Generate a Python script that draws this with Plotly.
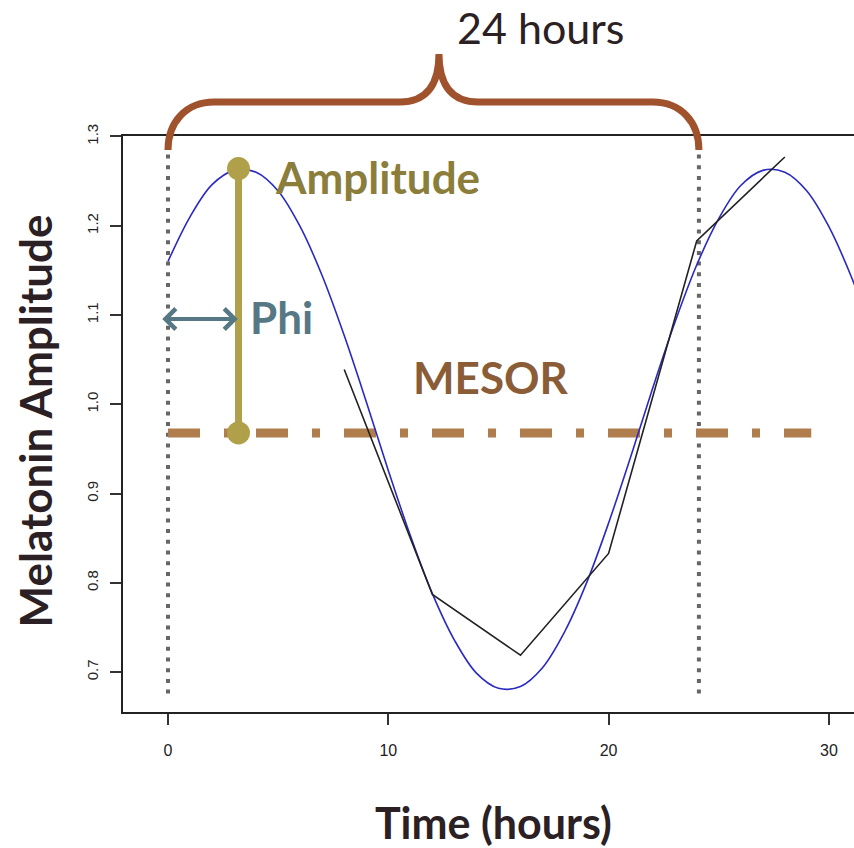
import plotly.graph_objects as go

# ---------------- data ----------------
fit_hours = [0, 1, 2, 3, 4, 5, 6, 7, 8, 9, 10, 11, 12, 13, 14, 15, 16, 17, 18, 19, 20,
             21, 22, 23, 24, 25, 26, 27, 28, 29, 30, 31, 31.5]
fit_values = [1.160, 1.210, 1.246, 1.262, 1.260, 1.239, 1.199, 1.144, 1.077, 1.003, 0.926,
              0.853, 0.788, 0.736, 0.699, 0.682, 0.684, 0.705, 0.745, 0.800, 0.867, 0.941,
              1.018, 1.091, 1.156, 1.208, 1.245, 1.262, 1.260, 1.239, 1.199, 1.144, 1.111]

obs_hours = [8, 12, 16, 20, 24, 28]
obs_values = [1.039, 0.787, 0.719, 0.833, 1.183, 1.277]

x_ticks = [0, 10, 20, 30]
y_ticks = [0.7, 0.8, 0.9, 1.0, 1.1, 1.2, 1.3]
y_tick_text = ["0.7", "0.8", "0.9", "1.0", "1.1", "1.2", "1.3"]

period_marks = [0, 24.1]
guide_span = [0.676, 1.29]
mesor_value = 0.968
mesor_span = [0, 29.2]
amplitude_peak = 1.264
acrophase_hour = 3.2
phi_level = 1.0955
phi_span = [-0.33, 3.17]

X_RANGE = [-2.043, 31.14]
Y_RANGE = [0.6554, 1.3005]

# ---------------- colours / fonts ----------------
DARK = "#2b2023"
BLUE = "#2a2ac0"
GUIDE = "#666666"
MESOR_LINE = "#b07d4d"
MESOR_TEXT = "#8a5d36"
AMP_BAR = "#b0a04a"
AMP_TEXT = "#8b7d3a"
PHI_COL = "#567885"
BRACE = "#a0522d"
LABEL_FONT = "Lato"
TICK_FONT = "Liberation Sans"

fig = go.Figure()

# vertical dotted period guides
for p in period_marks:
    fig.add_trace(go.Scatter(x=[p, p], y=guide_span, mode="lines",
                             line=dict(color=GUIDE, width=4, dash="4px,6.7px"),
                             hoverinfo="skip", showlegend=False))

# MESOR dash-dot line
fig.add_trace(go.Scatter(x=mesor_span, y=[mesor_value, mesor_value], mode="lines",
                         line=dict(color=MESOR_LINE, width=9, dash="32px,24px,8px,24px"),
                         hoverinfo="skip", showlegend=False))

# fitted cosinor curve
fig.add_trace(go.Scatter(x=fit_hours, y=fit_values, mode="lines",
                         line=dict(color=BLUE, width=1.6, shape="spline"),
                         showlegend=False))

# observed melatonin
fig.add_trace(go.Scatter(x=obs_hours, y=obs_values, mode="lines",
                         line=dict(color="#222222", width=1.6),
                         showlegend=False))

# amplitude bar
fig.add_trace(go.Scatter(x=[acrophase_hour, acrophase_hour], y=[mesor_value, amplitude_peak],
                         mode="lines+markers",
                         line=dict(color=AMP_BAR, width=7),
                         marker=dict(color=AMP_BAR, size=23),
                         hoverinfo="skip", showlegend=False))


def xp(x):
    return (x - X_RANGE[0]) / (X_RANGE[1] - X_RANGE[0])


# curly brace spanning one period (x in hours, y in paper units)
L, R, T = period_marks[0], period_marks[1], 12.3
r, w = 2.1, 1.77
y_leg, y_mid, y_bar, y_up, y_tip = 0.9757, 1.0243, 1.059, 1.0833, 1.1424
pts = [
    ("M", [(L, y_leg)]),
    ("C", [(L, y_mid), (L + 0.82, y_bar), (L + r, y_bar)]),
    ("L", [(T - w, y_bar)]),
    ("C", [(T - 0.68, y_bar), (T, y_up), (T, y_tip)]),
    ("C", [(T, y_up), (T + 0.68, y_bar), (T + w, y_bar)]),
    ("L", [(R - r, y_bar)]),
    ("C", [(R - 0.82, y_bar), (R, y_mid), (R, y_leg)]),
]
path = " ".join(cmd + " " + " ".join(f"{xp(x):.5f},{y:.5f}" for x, y in coords)
                for cmd, coords in pts)
fig.add_shape(type="path", path=path, xref="paper", yref="paper",
              line=dict(color=BRACE, width=7), layer="above")

annotations = [
    # phi double arrow
    dict(x=phi_span[1], y=phi_level, ax=phi_span[0], ay=phi_level,
         xref="x", yref="y", axref="x", ayref="y", text="", showarrow=True,
         arrowhead=4, startarrowhead=4, arrowside="end+start",
         arrowsize=1, startarrowsize=1, arrowwidth=4, arrowcolor=PHI_COL),
    dict(x=9.49, y=1.2545, xref="x", yref="y", text="Amplitude", showarrow=False,
         xanchor="center", yanchor="middle",
         font=dict(family=LABEL_FONT, size=44, color=AMP_TEXT, weight=700)),
    dict(x=5.13, y=1.098, xref="x", yref="y", text="Phi", showarrow=False,
         xanchor="center", yanchor="middle",
         font=dict(family=LABEL_FONT, size=44, color=PHI_COL, weight=700)),
    dict(x=14.68, y=1.031, xref="x", yref="y", text="MESOR", showarrow=False,
         xanchor="center", yanchor="middle",
         font=dict(family=LABEL_FONT, size=44, color=MESOR_TEXT, weight=700)),
    dict(x=16.9, y=1.189, xref="x", yref="paper", text="24 hours", showarrow=False,
         xanchor="center", yanchor="middle",
         font=dict(family=LABEL_FONT, size=43, color=DARK)),
    dict(x=0.5075, y=-0.192, xref="paper", yref="paper", text="Time (hours)",
         showarrow=False, xanchor="center", yanchor="middle",
         font=dict(family=LABEL_FONT, size=43, color=DARK, weight=700)),
    dict(x=-0.120, y=0.505, xref="paper", yref="paper", text="Melatonin Amplitude",
         showarrow=False, textangle=-90, xanchor="center", yanchor="middle",
         font=dict(family=LABEL_FONT, size=44, color=DARK, weight=700)),
]

fig.update_layout(
    width=854, height=848,
    margin=dict(l=123, r=0, t=136, b=136),
    paper_bgcolor="white", plot_bgcolor="white",
    annotations=annotations,
    showlegend=False,
    xaxis=dict(range=X_RANGE, tickvals=x_ticks, ticks="outside", ticklen=11,
               tickwidth=1.5, tickcolor="#333333", showline=True, linecolor="#222222",
               linewidth=2, mirror=True, showgrid=False, zeroline=False,
               tickfont=dict(family=TICK_FONT, size=16, color="#222222"),
               ticklabelstandoff=12),
    yaxis=dict(range=Y_RANGE, tickvals=y_ticks, ticktext=y_tick_text, tickangle=-90,
               ticks="outside", ticklen=11, tickwidth=1.5, tickcolor="#333333",
               showline=True, linecolor="#222222", linewidth=2, showgrid=False,
               zeroline=False,
               tickfont=dict(family=TICK_FONT, size=15, color="#222222"),
               ticklabelstandoff=6),
)

fig.write_html("out.html")
